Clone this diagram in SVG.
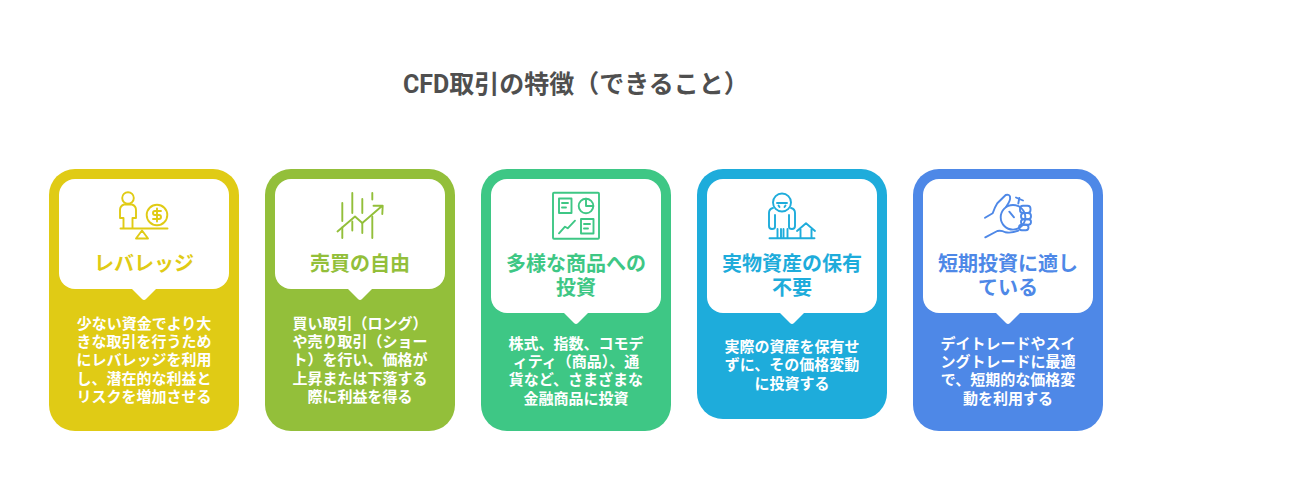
<svg xmlns="http://www.w3.org/2000/svg" width="1296" height="480" viewBox="0 0 1296 480">
<style>
text{font-family:"Roboto","Noto Sans CJK JP","Noto Sans",sans-serif;font-weight:700;text-anchor:middle}
.t{font-size:25px;fill:#4f4f4f;text-anchor:start}
.h{font-size:20px}
.d{font-size:15px;fill:#fff}
.i{fill:none;stroke-width:1.9;stroke-linecap:round;stroke-linejoin:round}
.w{fill:#fff}
</style>
<rect width="1296" height="480" fill="#fff"/>
<text class="t" x="403" y="93">CFD取引の特徴（できること）</text>
<g id="node1">
<rect x="49" y="169" width="190" height="262" rx="26" fill="#E0CB15"/>
<rect class="w" x="59" y="179" width="170" height="110" rx="16"/>
<path class="w" d="M132 289h24l-10 10q-2 2-4 0z"/>
<g class="i" stroke="#E0CB15">
<circle cx="128" cy="198" r="5.8"/>
<path d="M123.500 228v-10h-3.500v-8q0-4 4-5.500h8q4 1.500 4 5.500v8h-3.500v10"/>
<circle cx="157" cy="215" r="10.300"/>
<path d="M161 211h-6q-2 0-2 2t2 2h4q2 0 2 2t-2 2h-6M157 208.500v13"/>
<path d="M120.500 228.500h47"/>
<path d="M142 230.500l-6 8h12z"/>
</g>
<text class="h" x="144" y="271" fill="#E0CB15">レバレッジ</text>
<text class="d"><tspan x="144" y="329">少ない資金でより大</tspan><tspan x="144" y="347">きな取引を行うため</tspan><tspan x="144" y="365">にレバレッジを利用</tspan><tspan x="144" y="384">し、潜在的な利益と</tspan><tspan x="144" y="402">リスクを増加させる</tspan></text>
</g>
<g id="node2">
<rect x="265" y="169" width="190" height="262" rx="26" fill="#93BF3A"/>
<rect class="w" x="275" y="179" width="170" height="110" rx="16"/>
<path class="w" d="M348 289h24l-10 10q-2 2-4 0z"/>
<g class="i" stroke="#93BF3A">
<path d="M337.500 231.500L355 216.500l7.300 6.500 19.400-16.700M373.500 205.700h9.200l-0.400 8.300"/>
<path d="M342.300 203v18M342.300 227.500v10.500M352.300 193v20M352.300 221.500v9M362.300 199v14M362.300 223v10M372.300 193v6.500M372.300 216.500v21.500"/>
</g>
<text class="h" x="360" y="271" fill="#93BF3A">売買の自由</text>
<text class="d"><tspan x="360" y="329">買い取引（ロング）</tspan><tspan x="360" y="347">や売り取引（ショー</tspan><tspan x="360" y="365">ト）を行い、価格が</tspan><tspan x="360" y="384">上昇または下落する</tspan><tspan x="360" y="402">際に利益を得る</tspan></text>
</g>
<g id="node3">
<rect x="481" y="169" width="190" height="262" rx="26" fill="#3EC785"/>
<rect class="w" x="491" y="179" width="170" height="134" rx="16"/>
<path class="w" d="M564 313h24l-10 10q-2 2-4 0z"/>
<g class="i" stroke="#3EC785">
<rect x="553" y="192.700" width="46" height="46" rx="1"/>
<rect x="559" y="198.500" width="12.500" height="14.500"/>
<path d="M562 203h6M562 207.500h4"/>
<circle cx="586" cy="206" r="7.300"/>
<path d="M586 198.700v7.300h7.300"/>
<path d="M559 233.300l6-6.600 2.700 1.600 7.300-7.600"/>
<rect x="581" y="219" width="12.500" height="14.500"/>
<path d="M584 224h6M584 228.500h4"/>
</g>
<text class="h" x="576" y="271" fill="#3EC785">多様な商品への</text>
<text class="h" x="576" y="295" fill="#3EC785">投資</text>
<text class="d"><tspan x="576" y="349">株式、指数、コモデ</tspan><tspan x="576" y="367">ィティ（商品）、通</tspan><tspan x="576" y="385">貨など、さまざまな</tspan><tspan x="576" y="404">金融商品に投資</tspan></text>
</g>
<g id="node4">
<rect x="697" y="169" width="190" height="250" rx="26" fill="#1EACDB"/>
<rect class="w" x="707" y="179" width="170" height="134" rx="16"/>
<path class="w" d="M780 313h24l-10 10q-2 2-4 0z"/>
<g class="i" stroke="#1EACDB">
<path d="M769.500 238.300h45"/>
<circle cx="782" cy="202.500" r="9"/>
<path d="M777 203h10M778.500 205.500l1 1.500M785.500 205.500l-1 1.500"/>
<path d="M775 215v12q0 2-3 2t-3-3v-13q0-4 4-5M789 215v12q0 2 3 2t3-3v-13q0-4-4-5"/>
<path d="M777.500 229v9M781 229v9M783.500 229v9M787.500 229v9"/>
<path d="M797 231l9-7.700 9 7.700M800.500 229v9M811.500 229v9"/>
</g>
<text class="h" x="792" y="271" fill="#1EACDB">実物資産の保有</text>
<text class="h" x="792" y="295" fill="#1EACDB">不要</text>
<text class="d"><tspan x="792" y="352">実際の資産を保有せ</tspan><tspan x="792" y="370">ずに、その価格変動</tspan><tspan x="792" y="389">に投資する</tspan></text>
</g>
<g id="node5">
<rect x="913" y="169" width="190" height="262" rx="26" fill="#4E88E7"/>
<rect class="w" x="923" y="179" width="170" height="134" rx="16"/>
<path class="w" d="M996 313h24l-10 10q-2 2-4 0z"/>
<g class="i" stroke="#4E88E7">
<path d="M985 217.700l7.700-4.400q2-6 4.600-10l8.400-8.300q4-1 4.300 2 1 3-4 10"/>
<path d="M985.300 237.300l12-6.300q4-1 8 1.300 7 1 13-1.600"/>
<circle cx="1013" cy="217.300" r="12.300"/>
<path d="M1009.300 211.700l4.700 5.600M1018.300 203.500l1-5.500M1016 197.500l7 3"/>
<rect x="1020" y="205.700" width="10.500" height="7.300" rx="3"/>
<rect x="1021" y="213" width="10" height="6.300" rx="3"/>
<rect x="1021" y="219.300" width="10" height="5.500" rx="2.700"/>
<rect x="1019" y="224.800" width="9.500" height="5.500" rx="2.700"/>
</g>
<text class="h" x="1008" y="271" fill="#4E88E7">短期投資に適し</text>
<text class="h" x="1008" y="295" fill="#4E88E7">ている</text>
<text class="d"><tspan x="1008" y="349">デイトレードやスイ</tspan><tspan x="1008" y="367">ングトレードに最適</tspan><tspan x="1008" y="385">で、短期的な価格変</tspan><tspan x="1008" y="404">動を利用する</tspan></text>
</g>
<g id="connectors"></g>
</svg>
